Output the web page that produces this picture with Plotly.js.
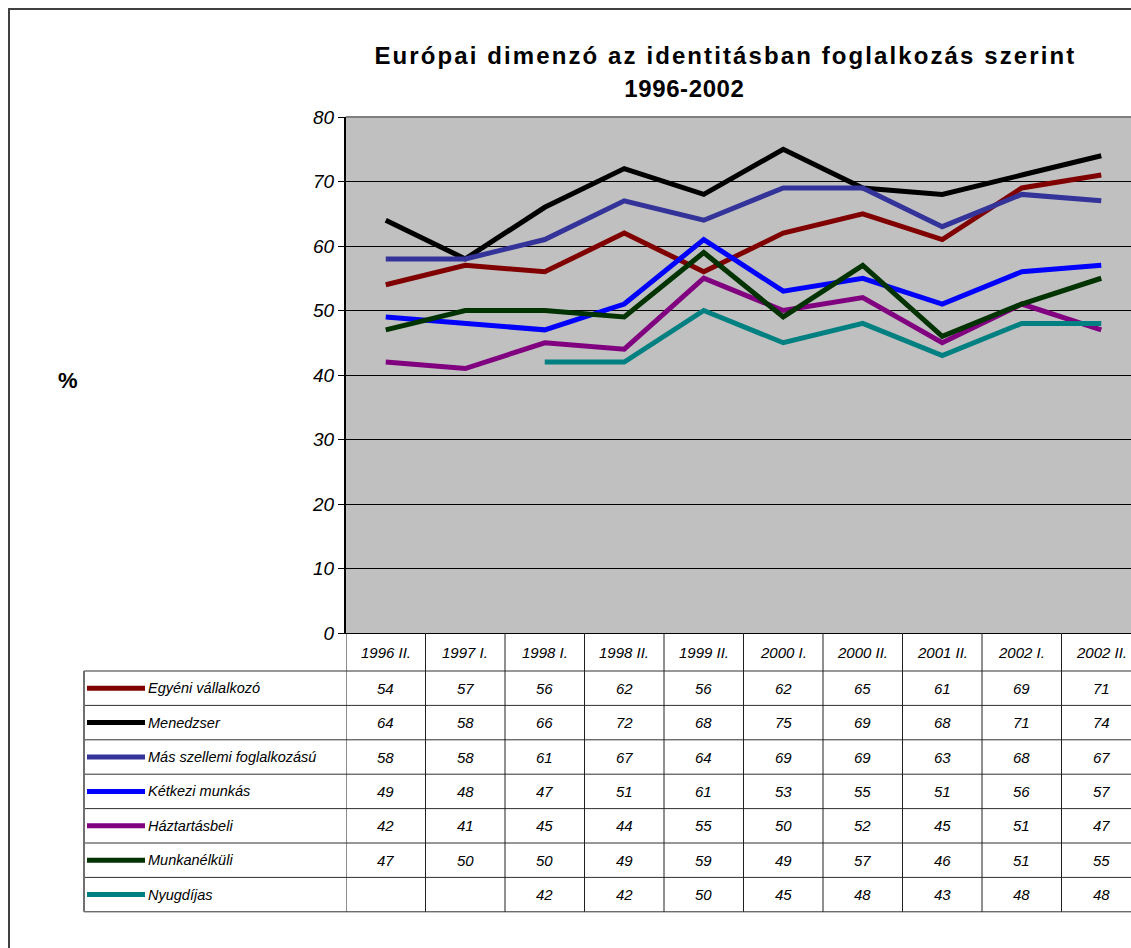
<!DOCTYPE html>
<html>
<head>
<meta charset="utf-8">
<script src="https://cdn.plot.ly/plotly-3.0.1.min.js"></script>
<style>
html,body{margin:0;padding:0;overflow:hidden;background:#fff;width:1131px;height:948px;}
#chart{width:1150px;height:948px;}
</style>
</head>
<body>
<div id="chart"></div>
<script>
const categories = ["1996 II.","1997 I.","1998 I.","1998 II.","1999 II.","2000 I.","2000 II.","2001 II.","2002 I.","2002 II."];
const seriesNames = ["Egyéni vállalkozó","Menedzser","Más szellemi foglalkozású","Kétkezi munkás","Háztartásbeli","Munkanélküli","Nyugdíjas"];
const egyeni = [54,57,56,62,56,62,65,61,69,71];
const menedzser = [64,58,66,72,68,75,69,68,71,74];
const masSzellemi = [58,58,61,67,64,69,69,63,68,67];
const ketkezi = [49,48,47,51,61,53,55,51,56,57];
const haztartasbeli = [42,41,45,44,55,50,52,45,51,47];
const munkanelkuli = [47,50,50,49,59,49,57,46,51,55];
const nyugdijas = [null,null,42,42,50,45,48,43,48,48];
const yTicks = [0,10,20,30,40,50,60,70,80];
const titleLine1 = "Európai dimenzó az identitásban foglalkozás szerint";
const titleLine2 = "1996-2002";
const yLabel = "%";

const seriesValues = [egyeni, menedzser, masSzellemi, ketkezi, haztartasbeli, munkanelkuli, nyugdijas];
const colors = ["#800000","#000000","#333399","#0000ff","#800080","#003300","#008080"];
const tableLabels = ["Egyéni vállalkozó","Menedzser","Más szellemi foglalkozású","Kétkezi munkás","Háztartásbeli","Munkanélküli","Nyugdíjas"];

const W = 1150, H = 948;
const L = 346, T = 117, PW = 795, PH = 516;
const px = x => (x - L) / PW;
const py = y => (T + PH - y) / PH;
const xIdx = categories.map((c,i)=>i);

const FONT = "Liberation Sans, Arial, sans-serif";

const traces = seriesValues.map((vals,i)=>({
  type:"scatter", mode:"lines", x:xIdx, y:vals, name:seriesNames[i],
  line:{color:colors[i], width:5}, connectgaps:false, hoverinfo:"skip"
}));

const shapes = [];
const annotations = [];

shapes.push({type:"rect", xref:"paper", yref:"paper", x0:px(9), x1:px(1160), y0:py(9), y1:py(960),
  line:{color:"#404040", width:2}, fillcolor:"rgba(0,0,0,0)", layer:"above"});
shapes.push({type:"line", xref:"paper", yref:"paper", x0:0, x1:1, y0:1, y1:1, line:{color:"#808080", width:2}});

const headerTop = 633, headerBot = 671, rowH = 34.4;
const tableBot = headerBot + rowH*7;
for (let r=0;r<=7;r++){
  const y = headerBot + rowH*r;
  shapes.push({type:"line", xref:"paper", yref:"paper", x0:px(84), x1:px(1160), y0:py(y), y1:py(y), line:{color:"#303030", width:1}});
}
shapes.push({type:"line", xref:"paper", yref:"paper", x0:px(84), x1:px(84), y0:py(headerBot), y1:py(tableBot), line:{color:"#707070", width:2}});
for (let k=0;k<=categories.length;k++){
  shapes.push({type:"line", xref:"x", yref:"paper", x0:k-0.5, x1:k-0.5, y0:py(headerTop), y1:py(tableBot), line:{color:"#202020", width:1}});
}
categories.forEach((c,i)=>{
  annotations.push({xref:"x", yref:"paper", x:i, y:py((headerTop+headerBot)/2), text:c, showarrow:false,
    font:{family:FONT, size:15, color:"#000", style:"italic"}, xanchor:"center", yanchor:"middle"});
});
seriesValues.forEach((vals,r)=>{
  const cy = headerBot + rowH*(r+0.5);
  shapes.push({type:"line", xref:"paper", yref:"paper", x0:px(87), x1:px(145), y0:py(cy), y1:py(cy), line:{color:colors[r], width:5}});
  annotations.push({xref:"paper", yref:"paper", x:px(146), y:py(cy), text:tableLabels[r], showarrow:false,
    font:{family:FONT, size:14.5, color:"#000", style:"italic"}, xanchor:"left", yanchor:"middle"});
  vals.forEach((v,i)=>{
    if (v===null) return;
    annotations.push({xref:"x", yref:"paper", x:i, y:py(cy), text:String(v), showarrow:false,
      font:{family:FONT, size:15, color:"#000", style:"italic"}, xanchor:"center", yanchor:"middle"});
  });
});
const t1Index = annotations.length;
annotations.push({xref:"paper", yref:"paper", x:px(725), y:py(55), text:"<b>"+titleLine1+"</b>", showarrow:false,
  font:{family:FONT, size:24, color:"#000"}, xanchor:"center", yanchor:"middle"});
const t2Index = annotations.length;
annotations.push({xref:"paper", yref:"paper", x:px(684), y:py(89), text:"<b>"+titleLine2+"</b>", showarrow:false,
  font:{family:FONT, size:24, color:"#000"}, xanchor:"center", yanchor:"middle"});
annotations.push({xref:"paper", yref:"paper", x:px(68), y:py(380), text:"<b>"+yLabel+"</b>", showarrow:false,
  font:{family:FONT, size:22, color:"#000"}, xanchor:"center", yanchor:"middle"});

const layout = {
  width:W, height:H,
  margin:{l:L, t:T, r:W-L-PW, b:H-T-PH, pad:0},
  paper_bgcolor:"#ffffff", plot_bgcolor:"#c0c0c0",
  showlegend:false,
  xaxis:{range:[-0.5, categories.length-0.5], showticklabels:false, ticks:"", showgrid:false, zeroline:false,
    showline:true, linecolor:"#000", linewidth:1, fixedrange:true},
  yaxis:{range:[0,80], tickvals:yTicks, ticktext:yTicks.map(String), ticks:"outside", ticklen:6, tickcolor:"#000",
    showgrid:true, gridcolor:"#000", gridwidth:1, zeroline:false, showline:true, linecolor:"#000", linewidth:2,
    tickfont:{family:FONT, size:19, color:"#000", style:"italic"}, fixedrange:true},
  shapes:shapes, annotations:annotations,
  font:{family:FONT}
};
Plotly.newPlot("chart", traces, layout, {staticPlot:true, displayModeBar:false}).then(()=>{
  const sp = {}; sp[t1Index] = "2.1px"; sp[t2Index] = "0.6px";
  document.querySelectorAll("#chart g.annotation").forEach(g=>{
    const idx = g.getAttribute("data-index");
    if (sp[idx]) {
      g.querySelectorAll("text").forEach(t=>{ t.style.letterSpacing = sp[idx]; });
    }
  });
});
</script>
</body>
</html>
